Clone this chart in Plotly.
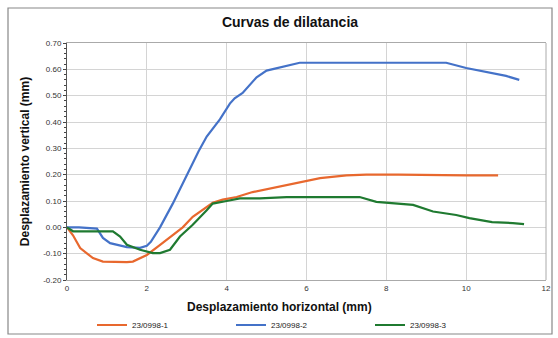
import plotly.graph_objects as go

series_names = ["23/0998-1", "23/0998-2", "23/0998-3"]
series_colors = ["#E8682E", "#4472C8", "#1F7A30"]

x1 = [0, 0.15, 0.33, 0.5, 0.65, 0.9, 1.2, 1.5, 1.65, 1.85, 2.0, 2.3, 2.58, 2.9, 3.15, 3.4, 3.65, 3.9,
      4.25, 4.65, 5.0, 5.5, 6.0, 6.34, 7.0, 7.5, 8.3, 9.0, 9.5, 10.0, 10.8]
y1 = [0, -0.03, -0.079, -0.1, -0.117, -0.13, -0.132, -0.132, -0.13, -0.115, -0.105, -0.07, -0.037, 0.0,
      0.04, 0.065, 0.093, 0.105, 0.115, 0.134, 0.145, 0.16, 0.178, 0.187, 0.197, 0.2, 0.2, 0.198, 0.197,
      0.197, 0.197]

x2 = [0, 0.3, 0.75, 0.9, 1.08, 1.3, 1.5, 1.83, 2.0, 2.1, 2.33, 2.65, 3.0, 3.3, 3.5, 3.83, 4.08, 4.2,
      4.4, 4.75, 5.0, 5.4, 5.83, 6.33, 7.0, 8.0, 9.0, 9.5, 10.0, 10.65, 11.0, 11.33]
y2 = [0, 0, -0.005, -0.04, -0.06, -0.068, -0.075, -0.078, -0.07, -0.055, 0.0, 0.09, 0.2, 0.29, 0.345,
      0.41, 0.47, 0.49, 0.51, 0.57, 0.595, 0.61, 0.625, 0.625, 0.625, 0.623, 0.625, 0.625, 0.605, 0.585,
      0.575, 0.56]

x3 = [0, 0.15, 0.6, 1.15, 1.33, 1.5, 1.83, 2.15, 2.33, 2.58, 2.83, 3.15, 3.5, 3.65, 4.0, 4.33, 4.83,
      5.5, 6.5, 7.33, 7.75, 8.17, 8.67, 9.17, 9.75, 10.08, 10.65, 11.17, 11.45]
y3 = [0, -0.015, -0.015, -0.015, -0.035, -0.066, -0.085, -0.098, -0.098, -0.085, -0.035, 0.01, 0.065,
      0.09, 0.1, 0.11, 0.11, 0.115, 0.115, 0.115, 0.097, 0.092, 0.085, 0.06, 0.047, 0.035, 0.02, 0.016,
      0.012]

x_ticks = [0, 2, 4, 6, 8, 10, 12]
y_ticks = [-0.2, -0.1, 0.0, 0.1, 0.2, 0.3, 0.4, 0.5, 0.6, 0.7]

x_title = "Desplazamiento horizontal (mm)"
y_title = "Desplazamiento vertical (mm)"

fig = go.Figure()
for xs, ys, name, col in zip([x1, x2, x3], [y1, y2, y3], series_names, series_colors):
    fig.add_trace(go.Scatter(x=xs, y=ys, mode="lines", name=name,
                             line=dict(color=col, width=2.2)))

font_fam = "Liberation Sans, Arial, sans-serif"

fig.update_layout(
    width=558, height=338,
    margin=dict(l=67, r=12, t=43, b=58, autoexpand=False),
    paper_bgcolor="white", plot_bgcolor="white",
    font=dict(family=font_fam, color="#222"),
    title=dict(text="<b>Curvas de dilatancia</b>", x=290/558, xanchor="center",
               y=1 - 22/338, yanchor="middle", font=dict(size=14, color="#111")),
    showlegend=True,
    legend=dict(orientation="h", xref="container", yref="container",
                x=92 / 558, xanchor="left", y=1 - 325 / 338,
                yanchor="middle", font=dict(size=8, color="#222"),
                entrywidth=94, entrywidthmode="pixels", itemwidth=30,
                bgcolor="rgba(0,0,0,0)"),
    xaxis=dict(range=[0, 12], tickvals=x_ticks, ticktext=[str(v) for v in x_ticks],
               showgrid=True, gridcolor="#d4d4d4", gridwidth=1,
               showline=True, linecolor="#aaa", mirror=True, ticks="",
               tickfont=dict(size=8, color="#333"), zeroline=False),
    yaxis=dict(range=[-0.2, 0.7], tickvals=y_ticks, ticktext=[f"{v:.2f}" for v in y_ticks],
               showgrid=True, gridcolor="#d4d4d4", gridwidth=1,
               showline=True, linecolor="#555", mirror=False, ticks="outside", ticklen=3,
               tickcolor="#444", tickfont=dict(size=8, color="#333"), zeroline=False,
               minor=dict(dtick=0.02, ticks="outside", ticklen=2, tickcolor="#444", showgrid=False),
               title=dict(text=f"<b>{y_title}</b>", font=dict(size=12, color="#111"),
                          standoff=10)),
)

fig.add_annotation(text=f"<b>{x_title}</b>", xref="paper", yref="paper",
                   x=(279 - 67) / 479, y=(280 - 307) / 237, xanchor="center", yanchor="middle",
                   showarrow=False, font=dict(size=12, color="#111"))

# right border of plot area
fig.add_shape(type="line", xref="paper", yref="paper", x0=1, x1=1, y0=0, y1=1,
              line=dict(color="#aaa", width=1))
# outer chart frame
fig.add_shape(type="rect", xref="paper", yref="paper",
              x0=(8 - 67) / 479, x1=(552 - 67) / 479, y0=(280 - 334) / 237, y1=(280 - 8) / 237,
              line=dict(color="#888", width=1.2), fillcolor="rgba(0,0,0,0)", layer="below")

fig.write_html("out.html")
